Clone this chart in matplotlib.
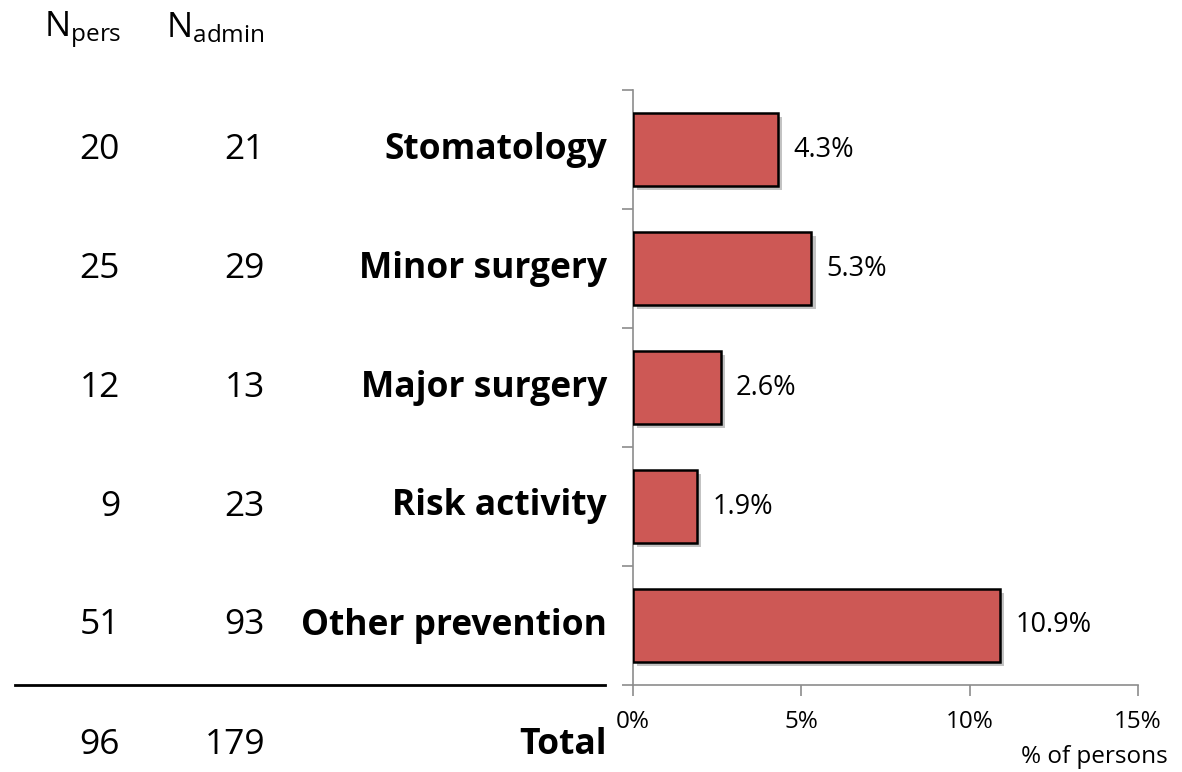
import matplotlib
matplotlib.use("Agg")
import matplotlib.pyplot as plt
import matplotlib.transforms as mtransforms
import matplotlib.patheffects as pe
from matplotlib.lines import Line2D

categories = ["Stomatology", "Minor surgery", "Major surgery", "Risk activity", "Other prevention"]
pct = [4.3, 5.3, 2.6, 1.9, 10.9]
n_pers = [20, 25, 12, 9, 51]
n_admin = [21, 29, 13, 23, 93]
total_pers = 96
total_admin = 179
xticks = [0, 5, 10, 15]
xticklabels = ["0%", "5%", "10%", "15%"]

plt.rcParams['font.family'] = ['Open Sans', 'DejaVu Sans']
fig = plt.figure(figsize=(11.82, 7.72), dpi=100)
ax = fig.add_axes([633/1182, 1-685/772, (1138-633)/1182, (685-90)/772])

ypos = list(range(len(categories)))
bars = ax.barh(ypos, pct, height=0.61, color="#CD5855", edgecolor="black", linewidth=1.8,
               zorder=3)
for b in bars:
    b.set_path_effects([pe.SimplePatchShadow(offset=(3, -3), shadow_rgbFace="#888888", alpha=0.5),
                        pe.Normal()])
for y, v in zip(ypos, pct):
    ax.text(v + 0.45, y, f"{v}%", va="center", ha="left", fontsize=19.5)

ax.set_xlim(0, 15)
ax.set_ylim(len(categories) - 0.5, -0.5)
ax.set_xticks(xticks)
ax.set_xticklabels(xticklabels, fontsize=17.5)
ax.set_yticks([i - 0.5 for i in range(len(categories) + 1)])
ax.set_yticklabels([])
for s in ["top", "right"]:
    ax.spines[s].set_visible(False)
for s in ["left", "bottom"]:
    ax.spines[s].set_color("#8c8c8c")
    ax.spines[s].set_linewidth(1.2)
ax.tick_params(axis="both", color="#8c8c8c", length=8, width=1.2, direction="out")
ax.tick_params(axis="x", pad=10)
ax.text(1168/1182, 1-757/772, "% of persons", transform=fig.transFigure, ha="right",
        va="center", fontsize=17.5)

trans = mtransforms.blended_transform_factory(fig.transFigure, ax.transData)
FS = 25.5
for y, c, p, a in zip(ypos, categories, n_pers, n_admin):
    fig.text(607/1182, y, c, transform=trans, ha="right", va="center", fontsize=FS, fontweight="bold")
    fig.text(120/1182, y, str(p), transform=trans, ha="right", va="center", fontsize=FS)
    fig.text(265/1182, y, str(a), transform=trans, ha="right", va="center", fontsize=FS)

ty = len(categories)
fig.text(607/1182, ty, "Total", transform=trans, ha="right", va="center", fontsize=FS, fontweight="bold")
fig.text(120/1182, ty, str(total_pers), transform=trans, ha="right", va="center", fontsize=FS)
fig.text(265/1182, ty, str(total_admin), transform=trans, ha="right", va="center", fontsize=FS)

line = Line2D([15/1182, 605/1182], [len(categories) - 0.5] * 2, transform=trans,
              color="black", linewidth=2)
fig.add_artist(line)

fig.text(44/1182, 1-37/772, r"$\mathregular{N_{pers}}$", ha="left", va="baseline", fontsize=25)
fig.text(166/1182, 1-37/772, r"$\mathregular{N_{admin}}$", ha="left", va="baseline", fontsize=25)

fig.savefig("out.png", dpi=100)
